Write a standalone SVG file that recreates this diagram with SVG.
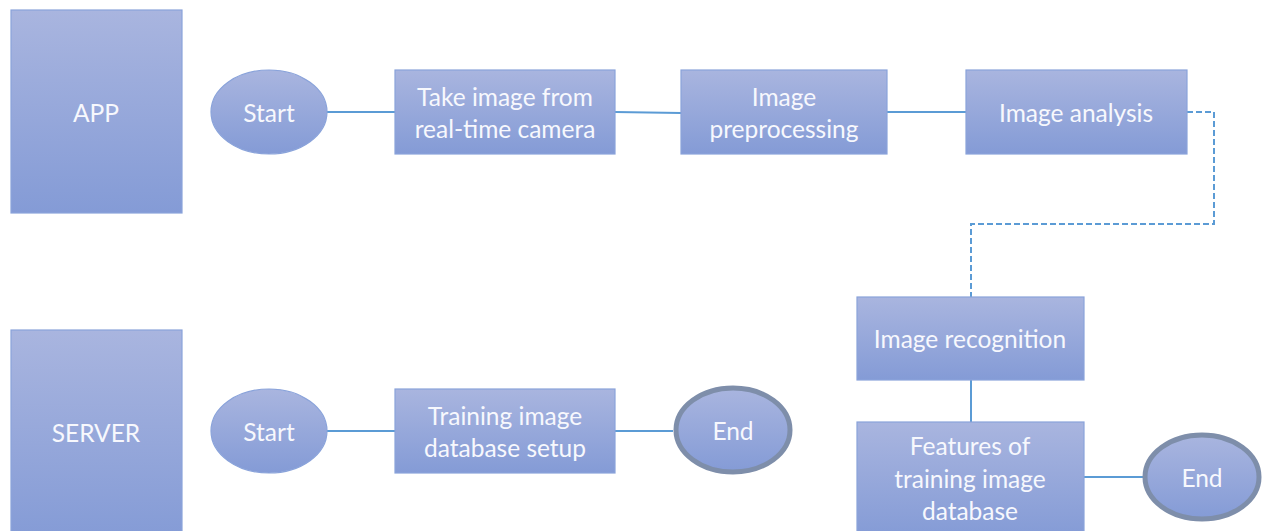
<svg xmlns="http://www.w3.org/2000/svg" width="1266" height="531" viewBox="0 0 1266 531">
<defs>
<linearGradient id="g" x1="0" y1="0" x2="0" y2="1">
<stop offset="0" stop-color="#A9B5DF"/>
<stop offset="1" stop-color="#849BD6"/>
</linearGradient>
<style>
.n{fill:url(#g);stroke:#8AA3DA;stroke-width:1.2}
.e{fill:url(#g);stroke:#7E8EAA;stroke-width:5}
.t{font-family:Lato,"Open Sans",sans-serif;font-size:24.5px;fill:#F7F8FD;text-anchor:middle;dominant-baseline:central}
.c{stroke:#5B9BD5;stroke-width:2;fill:none}
.d{stroke:#5B9BD5;stroke-width:2;fill:none;stroke-dasharray:6 3}
</style>
</defs>
<rect width="1266" height="531" fill="#fff"/>
<g id="connectors">
<line class="c" x1="327" y1="112" x2="395" y2="112"/>
<line class="c" x1="615" y1="112" x2="681" y2="113"/>
<line class="c" x1="887" y1="112" x2="966" y2="112"/>
<polyline class="d" points="1187,112 1214,112 1214,224 971,224 971,297"/>
<line class="c" x1="971" y1="380" x2="971" y2="422"/>
<line class="c" x1="1084" y1="477" x2="1143" y2="477"/>
<line class="c" x1="327" y1="431" x2="395" y2="431"/>
<line class="c" x1="615" y1="431" x2="673" y2="431"/>
</g>
<g id="app"><rect class="n" x="11" y="10" width="171" height="203"/><text class="t" x="96" y="112">APP</text></g>
<g id="start1"><ellipse class="n" cx="269" cy="112" rx="58" ry="42"/><text class="t" x="269" y="112">Start</text></g>
<g id="take"><rect class="n" x="395" y="70" width="220" height="84"/><text class="t" x="505" y="96">Take image from</text><text class="t" x="505" y="128">real-time camera</text></g>
<g id="prep"><rect class="n" x="681" y="70" width="206" height="84"/><text class="t" x="784" y="96">Image</text><text class="t" x="784" y="128">preprocessing</text></g>
<g id="analysis"><rect class="n" x="966" y="70" width="221" height="84"/><text class="t" x="1076" y="112">Image analysis</text></g>
<g id="recog"><rect class="n" x="857" y="297" width="227" height="83"/><text class="t" x="970" y="338">Image recognition</text></g>
<g id="features"><rect class="n" x="857" y="422" width="227" height="115"/><text class="t" x="970" y="445">Features of</text><text class="t" x="970" y="478">training image</text><text class="t" x="970" y="510">database</text></g>
<g id="end2"><ellipse class="e" cx="1202" cy="477" rx="57" ry="42"/><text class="t" x="1202" y="477">End</text></g>
<g id="server"><rect class="n" x="11" y="330" width="171" height="210"/><text class="t" x="96" y="432">SERVER</text></g>
<g id="start2"><ellipse class="n" cx="269" cy="431" rx="58" ry="42"/><text class="t" x="269" y="431">Start</text></g>
<g id="training"><rect class="n" x="395" y="389" width="220" height="84"/><text class="t" x="505" y="415">Training image</text><text class="t" x="505" y="447">database setup</text></g>
<g id="end1"><ellipse class="e" cx="733" cy="430" rx="57" ry="42"/><text class="t" x="733" y="430">End</text></g>
</svg>
